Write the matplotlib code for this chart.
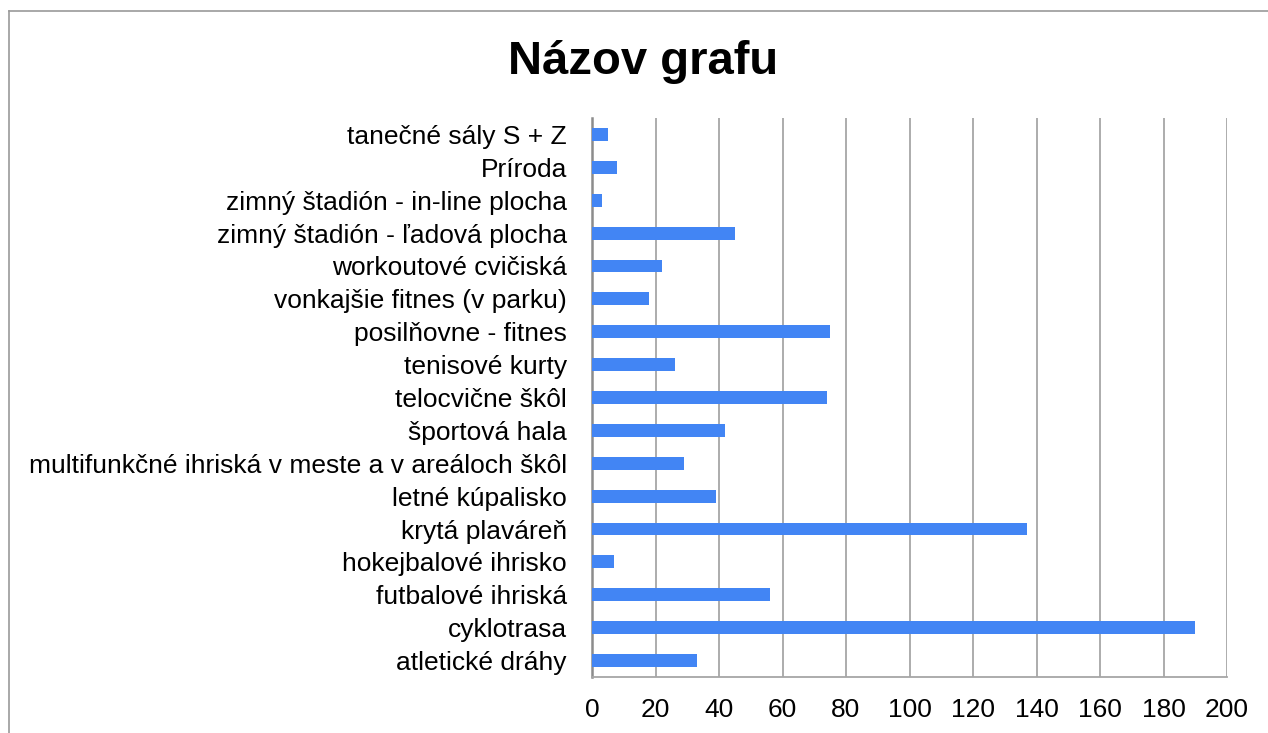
import matplotlib
matplotlib.use('Agg')
import matplotlib.pyplot as plt
from matplotlib.lines import Line2D

plt.rcParams['font.family'] = ['Liberation Sans', 'DejaVu Sans']

# categories listed top to bottom as in the chart
categories = [
    'tanečné sály S + Z',
    'Príroda',
    'zimný štadión - in-line plocha',
    'zimný štadión - ľadová plocha',
    'workoutové cvičiská',
    'vonkajšie fitnes (v parku)',
    'posilňovne - fitnes',
    'tenisové kurty',
    'telocvične škôl',
    'športová hala',
    'multifunkčné ihriská v meste a v areáloch škôl',
    'letné kúpalisko',
    'krytá plaváreň',
    'hokejbalové ihrisko',
    'futbalové ihriská',
    'cyklotrasa',
    'atletické dráhy',
]
values = [5, 8, 3, 45, 22, 18, 75, 26, 74, 42, 29, 39, 137, 7, 56, 190, 33]
xticks = [0, 20, 40, 60, 80, 100, 120, 140, 160, 180, 200]

fig = plt.figure(figsize=(12.68, 7.33), dpi=100)
ax = fig.add_axes([592/1268, 56/733, (1227-592)/1268, (677-118)/733])

ypos = list(range(len(categories)))
ax.barh(ypos, values, height=0.39, color='#4285F4', zorder=3)

ax.set_xlim(0, 200)
ax.set_ylim(len(categories) - 0.5, -0.5)
ax.set_yticks(ypos)
ax.set_yticklabels(categories, fontsize=19)
ax.set_xticks(xticks)
ax.set_xticklabels([str(t) for t in xticks], fontsize=19)
ax.tick_params(axis='y', length=0, pad=18)
ax.tick_params(axis='x', length=0, pad=15)

ax.grid(axis='x', color='#a6a6a6', linewidth=1.3, zorder=0)
for s in ['top', 'right']:
    ax.spines[s].set_visible(False)
ax.spines['left'].set_color('#8c8c8c')
ax.spines['left'].set_linewidth(1.8)
ax.spines['bottom'].set_color('#a6a6a6')
ax.spines['bottom'].set_linewidth(1.3)

fig.text(643/1268, 1 - 62/733, 'Názov grafu', fontsize=34, fontweight='bold',
         ha='center', va='center')

# outer chart frame (top and left edges visible)
fig.add_artist(Line2D([9/1268, 1], [1 - 11/733, 1 - 11/733],
                      transform=fig.transFigure, color='#9a9a9a', linewidth=1.2))
fig.add_artist(Line2D([9/1268, 9/1268], [0, 1 - 11/733],
                      transform=fig.transFigure, color='#9a9a9a', linewidth=1.2))

fig.savefig('out.png', dpi=100)
